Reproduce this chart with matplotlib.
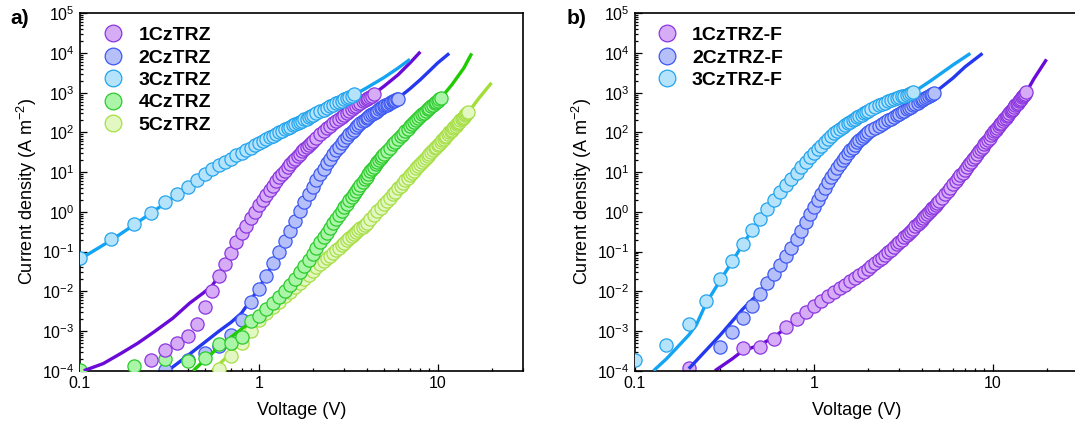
import numpy as np
import matplotlib
matplotlib.use("Agg")
import matplotlib.pyplot as plt
from matplotlib.ticker import LogLocator, FixedLocator, FixedFormatter, NullFormatter
from matplotlib.lines import Line2D

plt.rcParams['font.family'] = ['Liberation Sans', 'DejaVu Sans']
plt.rcParams['mathtext.fontset'] = 'custom'
plt.rcParams['mathtext.rm'] = 'Liberation Sans'
plt.rcParams['mathtext.it'] = 'Liberation Sans:italic'
plt.rcParams['mathtext.bf'] = 'Liberation Sans:bold'

# ---- panel a) measured J-V data (V in volts, log10 J in A m^-2) ----
v_1cz = [0.25, 0.3, 0.35, 0.4, 0.45, 0.5, 0.55, 0.6, 0.65, 0.7, 0.75, 0.8, 0.85, 0.9, 0.95, 1.0,
         1.05, 1.1, 1.15, 1.2, 1.25, 1.3, 1.35, 1.4, 1.45, 1.5, 1.55, 1.6, 1.65, 1.7, 1.75, 1.8, 1.85, 1.9, 1.95, 2.0,
         2.1, 2.2, 2.3, 2.4, 2.5, 2.6, 2.7, 2.8, 2.9, 3.0, 3.1, 3.2, 3.3, 3.4, 3.5, 3.6, 3.7, 3.8, 3.9, 4.0,
         4.1, 4.2, 4.3, 4.4]
lj_1cz = [-3.72, -3.48, -3.31, -3.12, -2.83, -2.39, -1.99, -1.62, -1.32, -1.03, -0.75, -0.54, -0.36, -0.16, 0.0, 0.17,
          0.30, 0.43, 0.55, 0.66, 0.77, 0.87, 0.96, 1.04, 1.12, 1.20, 1.27, 1.34, 1.40, 1.46, 1.52, 1.58, 1.63, 1.68, 1.73, 1.78,
          1.87, 1.95, 2.03, 2.10, 2.17, 2.23, 2.29, 2.35, 2.40, 2.45, 2.50, 2.54, 2.59, 2.63, 2.67, 2.71, 2.74, 2.78, 2.81, 2.84,
          2.87, 2.90, 2.93, 2.96]

v_2cz = [0.3, 0.4, 0.5, 0.6, 0.7, 0.8, 0.9, 1.0, 1.1, 1.2, 1.3, 1.4, 1.5, 1.6, 1.7, 1.8, 1.9, 2.0,
         2.1, 2.2, 2.3, 2.4, 2.5, 2.6, 2.7, 2.8, 2.9, 3.0, 3.1, 3.2, 3.3, 3.4, 3.5, 3.6, 3.7, 3.8, 3.9, 4.0,
         4.1, 4.2, 4.3, 4.4, 4.5, 4.6, 4.7, 4.8, 4.9, 5.0, 5.1, 5.2, 5.3, 5.4, 5.5, 5.6, 5.7, 5.8, 5.9, 6.0]
lj_2cz = [-3.98, -3.72, -3.56, -3.38, -3.10, -2.72, -2.26, -1.95, -1.62, -1.30, -1.00, -0.73, -0.47, -0.22, 0.02, 0.24, 0.44, 0.62,
          0.79, 0.95, 1.09, 1.22, 1.34, 1.45, 1.55, 1.64, 1.73, 1.81, 1.88, 1.95, 2.01, 2.07, 2.13, 2.18, 2.23, 2.28, 2.32, 2.36,
          2.40, 2.43, 2.46, 2.49, 2.52, 2.55, 2.58, 2.61, 2.63, 2.66, 2.68, 2.70, 2.72, 2.74, 2.76, 2.78, 2.80, 2.82, 2.83, 2.85]

v_3cz = [0.1, 0.15, 0.2, 0.25, 0.3, 0.35, 0.4, 0.45, 0.5, 0.55, 0.6, 0.65, 0.7, 0.75, 0.8, 0.85, 0.9, 0.95, 1.0,
         1.05, 1.1, 1.15, 1.2, 1.25, 1.3, 1.35, 1.4, 1.45, 1.5, 1.55, 1.6, 1.65, 1.7, 1.75, 1.8, 1.85, 1.9, 1.95, 2.0,
         2.1, 2.2, 2.3, 2.4, 2.5, 2.6, 2.7, 2.8, 2.9, 3.0, 3.1, 3.2, 3.3, 3.4]
lj_3cz = [-1.17, -0.69, -0.31, -0.04, 0.24, 0.45, 0.63, 0.80, 0.96, 1.07, 1.17, 1.26, 1.34, 1.42, 1.49, 1.56, 1.62, 1.68, 1.74,
          1.79, 1.84, 1.88, 1.92, 1.96, 2.00, 2.04, 2.08, 2.11, 2.14, 2.18, 2.21, 2.24, 2.27, 2.30, 2.33, 2.35, 2.38, 2.41, 2.43,
          2.48, 2.53, 2.57, 2.61, 2.66, 2.69, 2.73, 2.77, 2.80, 2.84, 2.87, 2.90, 2.93, 2.96]

v_4cz = [0.1, 0.2, 0.3, 0.4, 0.5, 0.6, 0.7, 0.8, 0.9, 1.0, 1.1, 1.2, 1.3, 1.4, 1.5, 1.6, 1.7, 1.8, 1.9, 2.0,
         2.1, 2.2, 2.3, 2.4, 2.5, 2.6, 2.7, 2.8, 2.9, 3.0, 3.1, 3.2, 3.3, 3.4, 3.5, 3.6, 3.7, 3.8, 3.9, 4.0,
         4.1, 4.2, 4.3, 4.4, 4.5, 4.6, 4.7, 4.8, 4.9, 5.0,
         5.2, 5.4, 5.6, 5.8, 6.0, 6.2, 6.4, 6.6, 6.8, 7.0, 7.2, 7.4, 7.6, 7.8, 8.0,
         8.2, 8.4, 8.6, 8.8, 9.0, 9.2, 9.4, 9.6, 9.8, 10.0, 10.2, 10.4]
lj_4cz = [-3.98, -3.88, -3.70, -3.76, -3.69, -3.32, -3.30, -3.16, -2.76, -2.62,
          -2.45, -2.30, -2.15, -2.00, -1.84, -1.68, -1.52, -1.36, -1.20, -1.05,
          -0.91, -0.77, -0.64, -0.52, -0.40, -0.29, -0.18, -0.08, 0.02, 0.11,
          0.20, 0.29, 0.37, 0.45, 0.53, 0.61, 0.68, 0.75, 0.82, 0.89,
          0.96, 1.02, 1.08, 1.14, 1.20, 1.25, 1.30, 1.35, 1.40, 1.45,
          1.54, 1.62, 1.70, 1.77, 1.84, 1.91, 1.97, 2.03, 2.09, 2.15, 2.21, 2.26, 2.31, 2.36, 2.41,
          2.46, 2.50, 2.54, 2.58, 2.62, 2.66, 2.70, 2.73, 2.77, 2.80, 2.83, 2.86]

v_5cz = [0.6, 0.7, 0.8, 0.9, 1.0, 1.1, 1.2, 1.3, 1.4, 1.5, 1.6, 1.7, 1.8, 1.9, 2.0,
         2.1, 2.2, 2.3, 2.4, 2.5, 2.6, 2.7, 2.8, 2.9, 3.0, 3.1, 3.2, 3.3, 3.4, 3.5, 3.6, 3.7, 3.8, 3.9, 4.0,
         4.2, 4.4, 4.6, 4.8, 5.0, 5.2, 5.4, 5.6, 5.8, 6.0, 6.2, 6.4, 6.6, 6.8, 7.0, 7.2, 7.4, 7.6, 7.8, 8.0,
         8.2, 8.4, 8.6, 8.8, 9.0, 9.2, 9.4, 9.6, 9.8, 10.0, 10.2, 10.4, 10.6, 10.8, 11.0, 11.2, 11.4, 11.6, 11.8, 12.0,
         12.2, 12.4, 12.6, 12.8, 13.0, 13.2, 13.4, 13.6, 13.8, 14.0, 14.2, 14.4, 14.6, 14.8]
lj_5cz = [-3.95, -3.62, -3.30, -3.00, -2.72, -2.55, -2.40, -2.26, -2.13, -2.01, -1.89, -1.78, -1.68, -1.58, -1.49,
          -1.40, -1.32, -1.24, -1.17, -1.10, -1.03, -0.96, -0.90, -0.84, -0.78, -0.72, -0.67, -0.61, -0.56, -0.51, -0.46, -0.41, -0.37, -0.32, -0.28,
          -0.19, -0.09, 0.01, 0.10, 0.19, 0.28, 0.36, 0.44, 0.51, 0.59, 0.66, 0.73, 0.79, 0.86, 0.92, 0.98, 1.04, 1.10, 1.15, 1.21,
          1.26, 1.31, 1.36, 1.41, 1.46, 1.51, 1.55, 1.60, 1.64, 1.68, 1.72, 1.76, 1.80, 1.84, 1.88, 1.92, 1.96, 2.00, 2.03, 2.07,
          2.10, 2.14, 2.17, 2.21, 2.24, 2.27, 2.31, 2.34, 2.37, 2.40, 2.43, 2.46, 2.49, 2.52]

# fitted curves, panel a)
fv_1cz = [0.105, 0.135, 0.17, 0.21, 0.26, 0.33, 0.41, 0.49, 0.55, 0.6, 0.7, 0.8, 0.9, 1.0, 1.2, 1.5, 2.0, 2.5, 3.0, 4.0, 4.4, 5.0, 6.0, 7.0, 8.0]
fj_1cz = [-4.0, -3.82, -3.56, -3.31, -3.02, -2.68, -2.30, -2.04, -1.85, -1.6, -1.05, -0.55, -0.15, 0.17, 0.66, 1.20, 1.78, 2.17, 2.45, 2.84, 2.97, 3.16, 3.45, 3.75, 4.03]
fv_2cz = [0.31, 0.4, 0.5, 0.6, 0.7, 0.8, 0.9, 1.0, 1.2, 1.4, 1.6, 1.8, 2.0, 2.5, 3.0, 4.0, 5.0, 6.0, 7.0, 8.0, 9.0, 10.0, 11.6]
fj_2cz = [-4.0, -3.62, -3.28, -3.0, -2.78, -2.55, -2.22, -1.93, -1.3, -0.73, -0.22, 0.24, 0.62, 1.34, 1.81, 2.36, 2.66, 2.86, 3.1, 3.33, 3.55, 3.75, 3.99]
fv_3cz = [0.09, 0.1, 0.15, 0.2, 0.3, 0.5, 1.0, 1.5, 2.0, 2.5, 3.0, 3.4, 4.0, 5.0, 6.0, 7.0]
fj_3cz = [-1.3, -1.19, -0.71, -0.33, 0.22, 0.94, 1.72, 2.12, 2.41, 2.64, 2.82, 2.94, 3.12, 3.38, 3.62, 3.84]
fv_4cz = [0.43, 0.5, 0.6, 0.7, 0.8, 0.9, 1.0, 1.2, 1.5, 2.0, 3.0, 4.0, 5.0, 7.0, 10.4, 12.0, 14.0, 15.5]
fj_4cz = [-4.0, -3.72, -3.4, -3.15, -2.95, -2.78, -2.6, -2.3, -1.84, -1.05, 0.11, 0.89, 1.45, 2.15, 2.86, 3.2, 3.62, 3.99]
fv_5cz = [0.55, 0.7, 1.0, 1.5, 2.0, 3.0, 4.2, 6.0, 8.0, 10.0, 12.0, 14.8, 17.0, 20.0]
fj_5cz = [-4.0, -3.55, -2.74, -2.02, -1.51, -0.80, -0.21, 0.57, 1.19, 1.66, 2.05, 2.50, 2.86, 3.25]

# ---- panel b) ----
v_1czf = [0.2, 0.4, 0.5, 0.6, 0.7, 0.8, 0.9, 1.0,
          1.1, 1.2, 1.3, 1.4, 1.5, 1.6, 1.7, 1.8, 1.9, 2.0, 2.1, 2.2, 2.3, 2.4, 2.5, 2.6, 2.7, 2.8, 2.9, 3.0,
          3.1, 3.2, 3.3, 3.4, 3.5, 3.6, 3.7, 3.8, 3.9, 4.0, 4.1, 4.2, 4.3, 4.4, 4.5, 4.6, 4.7, 4.8, 4.9, 5.0,
          5.2, 5.4, 5.6, 5.8, 6.0, 6.2, 6.4, 6.6, 6.8, 7.0, 7.2, 7.4, 7.6, 7.8, 8.0, 8.2, 8.4, 8.6, 8.8, 9.0,
          9.2, 9.4, 9.6, 9.8, 10.0, 10.2, 10.4, 10.6, 10.8, 11.0, 11.2, 11.4, 11.6, 11.8, 12.0, 12.2, 12.4, 12.6, 12.8, 13.0,
          13.2, 13.4, 13.6, 13.8, 14.0, 14.2, 14.4, 14.6, 14.8, 15.0, 15.2, 15.4]
lj_1czf = [-3.92, -3.44, -3.40, -3.19, -2.91, -2.70, -2.52, -2.36,
           -2.24, -2.13, -2.03, -1.93, -1.84, -1.75, -1.67, -1.59, -1.51, -1.44, -1.36, -1.29, -1.22, -1.15, -1.08, -1.01, -0.95, -0.88, -0.82, -0.76,
           -0.70, -0.64, -0.58, -0.53, -0.47, -0.42, -0.36, -0.31, -0.26, -0.21, -0.16, -0.11, -0.06, -0.01, 0.04, 0.09, 0.13, 0.18, 0.22, 0.27,
           0.36, 0.44, 0.53, 0.61, 0.69, 0.77, 0.84, 0.92, 0.99, 1.06, 1.13, 1.20, 1.26, 1.33, 1.39, 1.46, 1.52, 1.58, 1.64, 1.70,
           1.76, 1.81, 1.87, 1.93, 1.98, 2.03, 2.07, 2.12, 2.16, 2.20, 2.25, 2.29, 2.33, 2.37, 2.41, 2.45, 2.49, 2.53, 2.57, 2.60,
           2.64, 2.68, 2.71, 2.75, 2.78, 2.82, 2.85, 2.88, 2.92, 2.95, 2.98, 3.01]

v_2czf = [0.3, 0.35, 0.4, 0.45, 0.5, 0.55, 0.6, 0.65, 0.7, 0.75, 0.8, 0.85, 0.9, 0.95, 1.0,
          1.05, 1.1, 1.15, 1.2, 1.25, 1.3, 1.35, 1.4, 1.45, 1.5, 1.55, 1.6, 1.65, 1.7, 1.75, 1.8, 1.85, 1.9, 1.95, 2.0,
          2.1, 2.2, 2.3, 2.4, 2.5, 2.6, 2.7, 2.8, 2.9, 3.0, 3.1, 3.2, 3.3, 3.4, 3.5, 3.6, 3.7, 3.8, 3.9, 4.0,
          4.1, 4.2, 4.3, 4.4, 4.5, 4.6, 4.7]
lj_2czf = [-3.40, -3.02, -2.68, -2.37, -2.07, -1.80, -1.56, -1.33, -1.11, -0.90, -0.69, -0.47, -0.25, -0.06, 0.12,
           0.29, 0.45, 0.60, 0.74, 0.87, 0.99, 1.10, 1.20, 1.30, 1.39, 1.47, 1.55, 1.62, 1.69, 1.75, 1.81, 1.86, 1.91, 1.96, 2.00,
           2.06, 2.11, 2.16, 2.21, 2.26, 2.31, 2.35, 2.39, 2.43, 2.47, 2.51, 2.55, 2.58, 2.62, 2.65, 2.68, 2.72, 2.75, 2.78, 2.81,
           2.84, 2.86, 2.89, 2.92, 2.94, 2.97, 2.99]

v_3czf = [0.1, 0.15, 0.2, 0.25, 0.3, 0.35, 0.4, 0.45, 0.5, 0.55, 0.6, 0.65, 0.7, 0.75, 0.8, 0.85, 0.9, 0.95, 1.0,
          1.05, 1.1, 1.15, 1.2, 1.25, 1.3, 1.35, 1.4, 1.45, 1.5, 1.55, 1.6, 1.65, 1.7, 1.75, 1.8, 1.85, 1.9, 1.95, 2.0,
          2.1, 2.2, 2.3, 2.4, 2.5, 2.6, 2.7, 2.8, 2.9, 3.0, 3.1, 3.2, 3.3, 3.4, 3.5, 3.6]
lj_3czf = [-3.72, -3.35, -2.83, -2.24, -1.70, -1.23, -0.80, -0.46, -0.17, 0.08, 0.30, 0.50, 0.67, 0.83, 0.98, 1.12, 1.25, 1.37, 1.48,
           1.58, 1.67, 1.76, 1.84, 1.91, 1.98, 2.04, 2.09, 2.14, 2.19, 2.23, 2.27, 2.31, 2.35, 2.38, 2.42, 2.45, 2.48, 2.51, 2.54,
           2.59, 2.64, 2.68, 2.72, 2.75, 2.78, 2.81, 2.84, 2.86, 2.89, 2.91, 2.93, 2.95, 2.97, 2.99, 3.01]

fv_1czf = [0.28, 0.35, 0.4, 0.5, 0.6, 0.7, 0.8, 1.0, 1.5, 2.0, 3.0, 4.0, 5.0, 7.0, 10.0, 12.0, 15.4, 17.0, 20.0]
fj_1czf = [-4.0, -3.7, -3.5, -3.35, -3.15, -2.92, -2.7, -2.36, -1.84, -1.44, -0.76, -0.21, 0.27, 1.06, 1.98, 2.41, 3.01, 3.35, 3.84]
fv_2czf = [0.2, 0.3, 0.4, 0.45, 0.5, 0.6, 0.7, 0.8, 0.9, 1.0, 1.2, 1.5, 2.0, 3.0, 4.7, 6.0, 7.0, 8.77]
fj_2czf = [-3.95, -3.1, -2.45, -2.22, -2.03, -1.56, -1.11, -0.69, -0.25, 0.12, 0.74, 1.39, 2.0, 2.47, 2.99, 3.37, 3.65, 3.99]
fv_3czf = [0.127, 0.15, 0.2, 0.22, 0.25, 0.3, 0.35, 0.4, 0.5, 0.6, 0.8, 1.0, 1.5, 2.0, 3.0, 3.6, 4.5, 6.0, 7.5]
fj_3czf = [-4.0, -3.7, -3.1, -2.85, -2.3, -1.72, -1.25, -0.82, -0.17, 0.3, 0.98, 1.48, 2.19, 2.54, 2.89, 3.01, 3.3, 3.7, 3.99]

labels_a = ['1CzTRZ', '2CzTRZ', '3CzTRZ', '4CzTRZ', '5CzTRZ']
labels_b = ['1CzTRZ-F', '2CzTRZ-F', '3CzTRZ-F']

# (line, marker edge, marker face)
col_1 = ('#6a0ad8', '#8a35e0', '#d7acf7')
col_2 = ('#2438f0', '#3d58f2', '#b5c0fa')
col_3 = ('#14a4f4', '#22a4ee', '#b5e3fc')
col_4 = ('#1fcc00', '#2bcb2b', '#aaf5a8')
col_5 = ('#a2de36', '#a6df45', '#e2f7c2')


def series(ax, v, lj, fv, fj, col, z):
    ax.plot(fv, 10 ** np.array(fj), '-', color=col[0], lw=2.4, zorder=z, solid_capstyle='butt')
    ax.plot(v, 10 ** np.array(lj), 'o', ms=9.5, mfc=col[2], mec=col[1], mew=0.9, zorder=z + 0.5)


def style(ax):
    ax.set_xscale('log')
    ax.set_yscale('log')
    ax.set_xlim(0.1, 30)
    ax.set_ylim(1e-4, 1e5)
    ax.xaxis.set_major_locator(FixedLocator([0.1, 1, 10]))
    ax.xaxis.set_major_formatter(FixedFormatter(['0.1', '1', '10']))
    ax.xaxis.set_minor_locator(LogLocator(base=10, subs=np.arange(2, 10), numticks=20))
    ax.xaxis.set_minor_formatter(NullFormatter())
    ax.yaxis.set_major_locator(LogLocator(base=10, numticks=20))
    ax.yaxis.set_minor_locator(LogLocator(base=10, subs=np.arange(2, 10), numticks=100))
    ax.yaxis.set_minor_formatter(NullFormatter())
    ax.tick_params(which='both', direction='in', top=False, right=False, labelsize=11.5, width=0.9)
    ax.tick_params(which='major', length=5, pad=4)
    ax.tick_params(which='minor', length=2.5)
    for s in ax.spines.values():
        s.set_linewidth(1.2)
    ax.set_xlabel('Voltage (V)', fontsize=13, labelpad=8)
    ax.set_ylabel('Current density (A m$^{-2}$)', fontsize=13)
    ax.yaxis.set_label_coords(-0.093, 0.5)


fig = plt.figure(figsize=(10.75, 4.29), dpi=100)
ax1 = fig.add_axes([80 / 1075, 58.3 / 429, 443 / 1075, 357.4 / 429])
ax2 = fig.add_axes([635 / 1075, 58.3 / 429, 443 / 1075, 357.4 / 429])

series(ax1, v_2cz, lj_2cz, fv_2cz, fj_2cz, col_2, 2)
series(ax1, v_5cz, lj_5cz, fv_5cz, fj_5cz, col_5, 3)
series(ax1, v_4cz, lj_4cz, fv_4cz, fj_4cz, col_4, 4)
series(ax1, v_1cz, lj_1cz, fv_1cz, fj_1cz, col_1, 5)
series(ax1, v_3cz, lj_3cz, fv_3cz, fj_3cz, col_3, 6)

series(ax2, v_1czf, lj_1czf, fv_1czf, fj_1czf, col_1, 2)
series(ax2, v_2czf, lj_2czf, fv_2czf, fj_2czf, col_2, 3)
series(ax2, v_3czf, lj_3czf, fv_3czf, fj_3czf, col_3, 4)

for ax in (ax1, ax2):
    style(ax)

h_a = [Line2D([], [], ls='none', marker='o', ms=12, mfc=c[2], mec=c[1], mew=0.9)
       for c in (col_1, col_2, col_3, col_4, col_5)]
h_b = [Line2D([], [], ls='none', marker='o', ms=12, mfc=c[2], mec=c[1], mew=0.9)
       for c in (col_1, col_2, col_3)]
leg_kw = dict(loc='upper left', frameon=False, borderaxespad=0, handlelength=1.0,
              handletextpad=0.8, labelspacing=0.25, prop={'weight': 'bold', 'size': 14})
ax1.legend(h_a, labels_a, bbox_to_anchor=(0.036, 0.985), **leg_kw)
ax2.legend(h_b, labels_b, bbox_to_anchor=(0.032, 0.985), **leg_kw)

fig.text(10 / 1075, 1 - 19 / 429, 'a)', fontsize=15, fontweight='bold', va='center')
fig.text(567 / 1075, 1 - 19 / 429, 'b)', fontsize=15, fontweight='bold', va='center')

fig.savefig('out.png', dpi=100)
